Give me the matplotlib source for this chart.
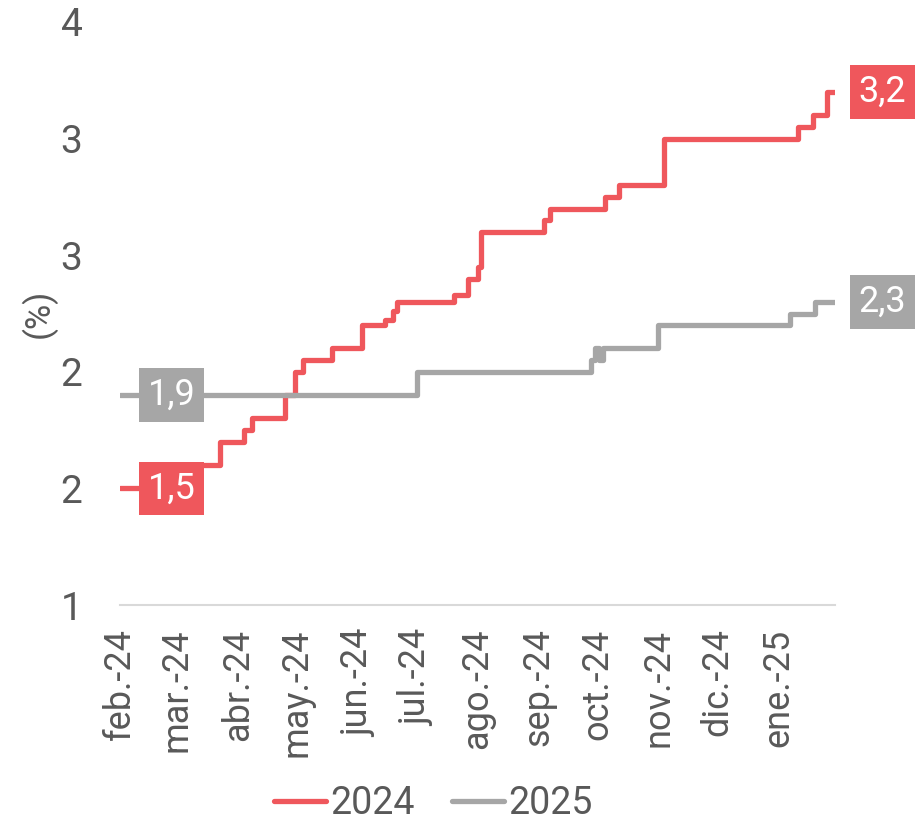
import datetime as dt
import matplotlib
matplotlib.use("Agg")
import matplotlib.pyplot as plt

plt.rcParams['font.family'] = ['Roboto', 'DejaVu Sans']
plt.rcParams['font.weight'] = 'normal'

# Expectation series (step change dates and values, %)
dates_2024 = ["2024-02-01", "2024-03-12", "2024-03-23", "2024-04-04", "2024-04-08",
              "2024-04-25", "2024-04-30", "2024-05-04", "2024-05-19", "2024-06-03",
              "2024-06-15", "2024-06-19", "2024-06-21", "2024-07-20", "2024-07-27",
              "2024-08-01", "2024-08-03", "2024-09-04", "2024-09-07", "2024-10-05",
              "2024-10-12", "2024-11-04", "2025-01-11", "2025-01-19", "2025-01-26",
              "2025-01-30"]
values_2024 = [1.5, 1.6, 1.7, 1.75, 1.8,
               1.9, 2.0, 2.05, 2.1, 2.2,
               2.22, 2.26, 2.3, 2.33, 2.4,
               2.45, 2.6, 2.65, 2.7, 2.75,
               2.8, 3.0, 3.05, 3.1, 3.2,
               3.2]

dates_2025 = ["2024-02-01", "2024-07-01", "2024-09-28", "2024-09-30", "2024-10-02",
              "2024-10-04", "2024-11-01", "2025-01-07", "2025-01-20", "2025-01-30"]
values_2025 = [1.9, 2.0, 2.05, 2.1, 2.05,
               2.1, 2.2, 2.25, 2.3, 2.3]

series_names = ["2024", "2025"]
series_colors = ["#EF575C", "#A6A6A6"]

month_ticks = ["2024-02-01", "2024-03-01", "2024-04-01", "2024-05-01", "2024-06-01",
               "2024-07-01", "2024-08-01", "2024-09-01", "2024-10-01", "2024-11-01",
               "2024-12-01", "2025-01-01"]
month_labels = ["feb.-24", "mar.-24", "abr.-24", "may.-24", "jun.-24", "jul.-24",
                "ago.-24", "sep.-24", "oct.-24", "nov.-24", "dic.-24", "ene.-25"]

y_ticks = [1.0, 1.5, 2.0, 2.5, 3.0, 3.5]
y_tick_labels = ["1", "2", "2", "3", "3", "4"]


def to_dates(seq):
    return [dt.datetime.strptime(s, "%Y-%m-%d") for s in seq]


text_color = "#595959"

fig = plt.figure(figsize=(9.16, 8.26), dpi=100)
ax = fig.add_axes([120 / 916, 1 - 605 / 826, (835 - 120) / 916, (605 - 22) / 826])

for name, color, ds, vs in [(series_names[0], series_colors[0], dates_2024, values_2024),
                            (series_names[1], series_colors[1], dates_2025, values_2025)]:
    x = to_dates(ds)
    ax.plot(x, vs, color=color, lw=3.8, drawstyle="steps-post",
            solid_capstyle="round", solid_joinstyle="round", label=name)
    # value boxes at first and last points
    for xi, vi, off in [(x[0], vs[0], 37), (x[-1], vs[-1], 34)]:
        ax.annotate(f"{vi:.1f}".replace(".", ","), xy=(xi, vi),
                    xytext=(off, 0), textcoords="offset points",
                    ha="center", va="center", color="white", fontsize=26,
                    bbox=dict(boxstyle="square,pad=0.24", fc=color, ec="none"),
                    annotation_clip=False, zorder=5)

ax.set_xlim(to_dates(["2024-02-01"])[0], to_dates(["2025-01-30"])[0])
ax.set_ylim(1.0, 3.5)

ax.set_xticks(to_dates(month_ticks))
ax.set_xticklabels(month_labels, rotation=90, fontsize=26, color=text_color)
ax.set_yticks(y_ticks)
ax.set_yticklabels(y_tick_labels, fontsize=28, color=text_color)
ax.tick_params(axis="both", length=0)
ax.tick_params(axis="x", pad=17)
ax.tick_params(axis="y", pad=27)

for s in ["top", "right", "left"]:
    ax.spines[s].set_visible(False)
ax.spines["bottom"].set_color("#D9D9D9")
ax.spines["bottom"].set_linewidth(1.5)

ax.set_ylabel("(%)", fontsize=25, color=text_color)
ax.yaxis.set_label_coords(-0.088, 0.5)

leg = fig.legend(loc="center", bbox_to_anchor=(433 / 916, 1 - 804 / 826),
                 ncol=2, frameon=False, fontsize=27, handlelength=1.4,
                 handletextpad=0.1, columnspacing=1.0)
for t in leg.get_texts():
    t.set_color(text_color)

fig.savefig("out.png", dpi=100)
